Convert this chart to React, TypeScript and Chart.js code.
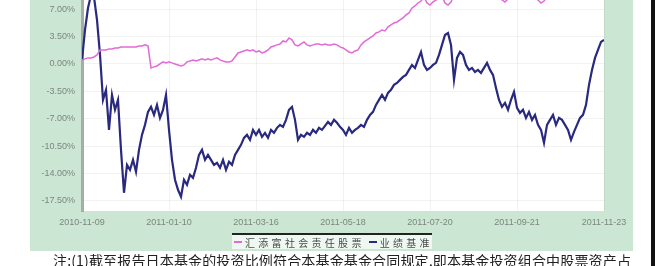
import React, { useEffect, useRef } from "react";
import { Chart, registerables } from "chart.js";

Chart.register(...registerables);

const xTickLabels = ["2010-11-09", "2011-01-10", "2011-03-16", "2011-05-18", "2011-07-20", "2011-09-21", "2011-11-23"];
const yTickValues = [7, 3.5, 0, -3.5, -7, -10.5, -14, -17.5];
const fundName = "汇添富社会责任股票";
const benchName = "业绩基准";
const noteText = "注:(1)截至报告日本基金的投资比例符合本基金基金合同规定,即本基金投资组合中股票资产占";

const fundValues = [
  0.51, 0.64, 0.77, 0.77, 0.89, 1.15, 1.79, 1.79, 1.79, 1.92,
  1.92, 2.04, 2.04, 2.17, 2.17, 2.17, 2.17, 2.17, 2.17, 2.3,
  2.3, 2.43, 2.3, -0.51, -0.38, -0.26, 0.0, 0.26, 0.13, 0.26,
  0.13, 0.0, -0.13, -0.26, -0.13, 0.26, 0.38, 0.51, 0.38, 0.51,
  0.64, 0.51, 0.64, 0.51, 0.64, 0.77, 0.51, 0.38, 0.26, 0.26,
  0.38, 0.89, 1.4, 1.53, 1.66, 1.79, 1.66, 1.79, 1.53, 1.66,
  1.4, 1.53, 1.79, 2.17, 2.3, 2.43, 2.55, 2.94, 2.81, 3.32,
  3.07, 2.43, 2.3, 2.55, 2.81, 2.43, 2.3, 2.43, 2.55, 2.55,
  2.43, 2.55, 2.43, 2.43, 2.55, 2.43, 2.17, 2.04, 1.79, 1.53,
  1.4, 1.66, 1.79, 2.43, 2.81, 3.07, 3.32, 3.58, 3.96, 4.09,
  4.34, 4.21, 4.73, 4.98, 5.24, 5.36, 5.62, 5.87, 6.26, 6.51,
  7.15, 7.41, 7.79, 8.04, 8.56, 7.79, 7.53, 7.92, 8.17, 8.43,
  8.68, 7.79, 7.53, 7.92, 8.81, 9.19, 9.45, 9.71, 10.09, 9.96,
  10.22, 10.47, 10.22, 9.96, 9.71, 9.45, 9.19, 8.94, 8.68, 8.56,
  8.17, 7.92, 8.3, 8.81, 9.19, 9.45, 9.19, 8.94, 8.81, 8.68,
  8.56, 8.43, 8.17, 7.79, 8.04, 8.56, 8.94, 9.19, 9.45, 9.71,
  9.45, 9.32, 9.19, 9.07, 8.94, 9.07, 9.32, 9.71, 10.09, 10.47,
  10.73, 10.98, 11.24, 11.36, 11.49,
];

const benchValues = [
  0.51, 4.34, 7.15, 8.81, 8.56, 5.62, 1.15, -4.6, -3.32, -8.43,
  -3.96, -5.87, -4.6, -10.98, -16.47, -12.9, -13.54, -12.26, -13.79, -10.98,
  -9.07, -7.79, -6.13, -5.49, -6.51, -5.24, -6.9, -5.87, -3.96, -8.43,
  -12.26, -14.81, -16.09, -16.98, -14.81, -15.45, -14.17, -14.56, -13.28, -11.62,
  -10.98, -12.26, -11.62, -12.26, -12.9, -12.64, -13.28, -12.26, -13.54, -12.51,
  -12.9, -11.62, -10.98, -10.34, -9.45, -9.07, -9.71, -8.43, -9.07, -8.43,
  -9.32, -8.81, -9.45, -8.43, -8.81, -8.17, -7.79, -8.05, -7.15, -5.87,
  -5.49, -7.15, -9.71, -9.07, -9.32, -8.81, -9.07, -8.43, -8.81, -8.17,
  -8.43, -7.92, -7.41, -7.79, -7.15, -7.53, -8.05, -8.43, -9.07, -8.17,
  -8.81, -8.43, -8.17, -7.79, -8.05, -7.15, -6.51, -6.13, -5.24, -4.6,
  -3.96, -4.6, -3.7, -3.32, -2.68, -2.43, -2.04, -1.66, -1.4, -0.77,
  -0.13, -0.51, 0.51, 1.53, -0.13, -0.77, -0.51, -0.13, 0.13, 1.15,
  2.43, 3.7, 3.96, 2.43, -2.04, 0.77, 1.53, 1.15, -0.13, -0.77,
  -0.51, -1.02, -0.77, -1.15, -0.51, 0.13, -0.77, -1.4, -3.07, -4.6,
  -5.49, -4.98, -5.87, -4.6, -3.58, -5.62, -6.26, -5.87, -6.9, -6.13,
  -7.15, -6.51, -7.79, -8.43, -10.09, -7.79, -7.15, -6.51, -7.79, -6.9,
  -7.15, -7.79, -8.43, -9.71, -8.68, -7.79, -6.9, -6.51, -5.24, -2.68,
  -0.77, 0.77, 1.79, 2.81, 3.07,
];

const fundColor = "#e36ad6";
const benchColor = "#28297f";

const whiteArea = {
  id: "whiteArea",
  beforeDraw(chart: any) {
    const { ctx, chartArea } = chart;
    ctx.save();
    ctx.fillStyle = "#ffffff";
    ctx.fillRect(chartArea.left, chartArea.top, chartArea.right - chartArea.left, chartArea.bottom - chartArea.top);
    ctx.restore();
  },
};

export default function App() {
  const ref = useRef<HTMLCanvasElement>(null);

  useEffect(() => {
    const n = benchValues.length;
    const xTickPos = xTickLabels.map((_, k) => (k * (n - 1)) / (xTickLabels.length - 1));
    const chart = new Chart(ref.current as HTMLCanvasElement, {
      type: "line",
      data: {
        datasets: [
          {
            label: fundName,
            data: fundValues.map((v, i) => ({ x: i, y: v })),
            borderColor: fundColor,
            borderWidth: 1.5,
            pointRadius: 0,
            tension: 0,
          },
          {
            label: benchName,
            data: benchValues.map((v, i) => ({ x: i, y: v })),
            borderColor: benchColor,
            borderWidth: 2.2,
            pointRadius: 0,
            tension: 0,
          },
        ],
      },
      options: {
        animation: false,
        responsive: false,
        devicePixelRatio: 1,
        layout: { padding: { left: 0, right: 29, top: 0, bottom: 0 } },
        plugins: { legend: { display: false }, tooltip: { enabled: false } },
        scales: {
          x: {
            type: "linear",
            min: 0,
            max: n - 1,
            afterBuildTicks: (s: any) => {
              s.ticks = xTickPos.map((v) => ({ value: v }));
            },
            afterFit: (s: any) => {
              s.height = 40;
              s.paddingLeft = 0;
              s.paddingRight = 0;
            },
            ticks: {
              autoSkip: false,
              maxRotation: 0,
              padding: 6,
              color: "#7d857f",
              font: { family: "'Liberation Sans', Arial, sans-serif", size: 9 },
              callback: (_v: any, idx: number) => xTickLabels[idx],
            },
            grid: { color: "rgba(0,0,0,0.05)", drawTicks: false },
            border: { display: false },
          },
          y: {
            type: "linear",
            min: -18.8,
            max: 8.17,
            afterBuildTicks: (s: any) => {
              s.ticks = yTickValues.map((v) => ({ value: v }));
            },
            afterFit: (s: any) => {
              s.width = 52;
              s.paddingTop = 0;
              s.paddingBottom = 0;
            },
            ticks: {
              padding: 7,
              color: "#7d857f",
              font: { family: "'Liberation Sans', Arial, sans-serif", size: 9 },
              callback: (v: any) => Number(v).toFixed(2) + "%",
            },
            grid: { color: "rgba(0,0,0,0.05)", drawTicks: false },
            border: { color: "#a3aea5", width: 3 },
          },
        },
      },
      plugins: [whiteArea],
    });
    return () => chart.destroy();
  }, []);

  const legendItem = (color: string, text: string) => (
    <span style={{ display: "inline-flex", alignItems: "center", marginRight: 4 }}>
      <span style={{ display: "inline-block", width: 8, height: 2, background: color, marginRight: 3 }} />
      <span>{text}</span>
    </span>
  );

  return (
    <div style={{ position: "absolute", left: 0, top: 0, width: 657, height: 266, overflow: "hidden", background: "#ffffff" }}>
      <div style={{ position: "absolute", left: 30, top: 0, width: 603, height: 251, background: "#cbe6d3" }}>
        <canvas ref={ref} width={603} height={251} style={{ display: "block", width: 603, height: 251 }} />
      </div>
      <div
        style={{
          position: "absolute",
          left: 232,
          top: 233,
          width: 200,
          height: 16,
          borderTop: "2px solid #222",
          background: "#eef7f0",
          display: "flex",
          alignItems: "center",
          paddingLeft: 2,
          fontFamily: "'Noto Sans CJK SC', sans-serif",
          fontSize: 10,
          letterSpacing: "3.3px",
          color: "#4a4a4a",
          whiteSpace: "nowrap",
          boxSizing: "border-box",
        }}
      >
        {legendItem(fundColor, fundName)}
        {legendItem(benchColor, benchName)}
      </div>
      <div style={{ position: "absolute", left: 651, top: 0, width: 4, height: 266, background: "#111" }} />
      <div
        style={{
          position: "absolute",
          left: 53,
          top: 253,
          fontFamily: "'Noto Sans CJK SC', serif",
          fontSize: 14,
          lineHeight: "14px",
          letterSpacing: "0.16px",
          color: "#222",
          whiteSpace: "nowrap",
        }}
      >
        {noteText}
      </div>
    </div>
  );
}
